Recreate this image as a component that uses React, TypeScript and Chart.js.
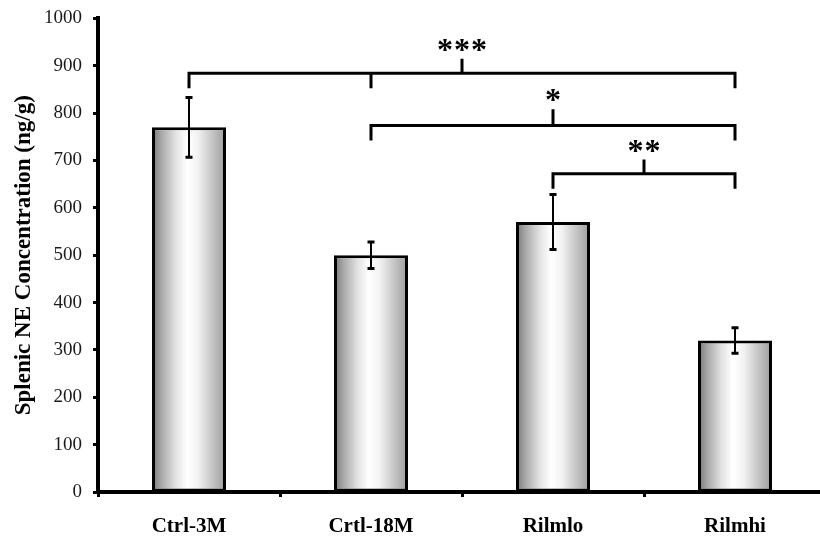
import React, { useEffect, useRef } from 'react';
import { Chart, registerables } from 'chart.js';

Chart.register(...registerables);

// Group names on the x axis
const categories = ['Ctrl-3M', 'Crtl-18M', 'Rilmlo', 'Rilmhi'];
// Mean splenic NE concentration (ng/g) per group
const meanNE = [770, 500, 570, 320];
// Error (±) per group
const errNE = [63, 28, 58, 27];
// Y axis range and step
const yMin = 0;
const yMax = 1000;
const yStep = 100;

// Significance brackets: which groups the legs stand on, bracket level (ng/g), top of centre tick, and stars
const bracketLegs = [[0, 1, 3], [1, 3], [2, 3]];
const bracketLevel = [884, 774, 672];
const bracketTickTop = [915, 808, 702];
const bracketStars = ['***', '*', '**'];

const SERIF = '"Liberation Serif", "Times New Roman", serif';

const overlayPlugin = {
  id: 'errorBarsAndBrackets',
  afterDatasetsDraw(chart: any) {
    const { ctx } = chart;
    const x = chart.scales.x;
    const y = chart.scales.y;
    ctx.save();
    ctx.strokeStyle = '#000';
    ctx.fillStyle = '#000';

    // error bars
    meanNE.forEach((m, i) => {
      const cx = x.getPixelForValue(i);
      const top = y.getPixelForValue(m + errNE[i]);
      const bot = y.getPixelForValue(m - errNE[i]);
      ctx.lineWidth = 2;
      ctx.beginPath();
      ctx.moveTo(cx, top);
      ctx.lineTo(cx, bot);
      ctx.stroke();
      ctx.lineWidth = 3;
      ctx.beginPath();
      ctx.moveTo(cx - 3.5, top);
      ctx.lineTo(cx + 3.5, top);
      ctx.moveTo(cx - 3.5, bot);
      ctx.lineTo(cx + 3.5, bot);
      ctx.stroke();
    });

    // significance brackets
    const legDrop = 15;
    ctx.lineWidth = 3;
    ctx.lineCap = 'butt';
    ctx.lineJoin = 'miter';
    bracketLegs.forEach((legs, b) => {
      const yy = y.getPixelForValue(bracketLevel[b]);
      const xs = legs.map((i) => x.getPixelForValue(i));
      const x0 = xs[0];
      const x1 = xs[xs.length - 1];
      ctx.beginPath();
      ctx.moveTo(x0, yy + legDrop);
      ctx.lineTo(x0, yy);
      ctx.lineTo(x1, yy);
      ctx.lineTo(x1, yy + legDrop);
      for (let k = 1; k < xs.length - 1; k++) {
        ctx.moveTo(xs[k], yy);
        ctx.lineTo(xs[k], yy + legDrop);
      }
      const mid = (x0 + x1) / 2;
      const tickTop = y.getPixelForValue(bracketTickTop[b]);
      ctx.moveTo(mid, yy);
      ctx.lineTo(mid, tickTop);
      ctx.stroke();

      // stars, each centred on its own slot
      ctx.font = `bold 32px ${SERIF}`;
      ctx.textAlign = 'center';
      ctx.textBaseline = 'alphabetic';
      const m = ctx.measureText('*');
      const glyphMid = (m.actualBoundingBoxAscent - m.actualBoundingBoxDescent) / 2;
      const cy = tickTop - 14;
      const n = bracketStars[b].length;
      const gap = 17;
      for (let s = 0; s < n; s++) {
        const sx = mid + (s - (n - 1) / 2) * gap;
        ctx.fillText('*', sx, cy + glyphMid);
      }
    });
    ctx.restore();
  },
};

function barGradient(context: any) {
  const chart = context.chart;
  const xs = chart.scales && chart.scales.x;
  if (!chart.chartArea || !xs || context.dataIndex === undefined) return '#d0d0d0';
  const cx = xs.getPixelForValue(context.dataIndex);
  const w = (chart.chartArea.width / categories.length) * 0.4066;
  const g = chart.ctx.createLinearGradient(cx - w / 2, 0, cx + w / 2, 0);
  g.addColorStop(0, '#767676');
  g.addColorStop(0.12, '#a6a6a6');
  g.addColorStop(0.32, '#e2e2e2');
  g.addColorStop(0.47, '#ffffff');
  g.addColorStop(0.62, '#f2f2f2');
  g.addColorStop(0.85, '#bdbdbd');
  g.addColorStop(1, '#9c9c9c');
  return g;
}

export default function App() {
  const canvasRef = useRef<HTMLCanvasElement | null>(null);

  useEffect(() => {
    if (!canvasRef.current) return;
    const chart = new Chart(canvasRef.current, {
      type: 'bar',
      data: {
        labels: categories,
        datasets: [
          {
            data: meanNE,
            backgroundColor: barGradient,
            borderColor: '#000',
            borderWidth: 3,
            borderSkipped: false,
            barPercentage: 0.4066,
            categoryPercentage: 1,
          },
        ],
      },
      options: {
        responsive: false,
        animation: false,
        events: [],
        layout: { padding: { top: 13, right: 14, bottom: 0, left: 0 } },
        plugins: {
          legend: { display: false },
          tooltip: { enabled: false },
        },
        scales: {
          x: {
            offset: true,
            afterFit: (s: any) => {
              s.height = 50;
            },
            border: { display: true, color: '#000', width: 4 },
            grid: {
              display: true,
              offset: true,
              drawOnChartArea: false,
              drawTicks: true,
              tickLength: 5,
              tickWidth: 3,
              tickColor: '#000',
              color: '#000',
            },
            ticks: {
              color: '#000',
              padding: 17,
              font: { family: SERIF, size: 21, weight: 'bold' },
              maxRotation: 0,
            },
          },
          y: {
            min: yMin,
            max: yMax,
            afterFit: (s: any) => {
              s.width = 98;
            },
            border: { display: true, color: '#000', width: 4 },
            grid: {
              display: true,
              drawOnChartArea: false,
              drawTicks: true,
              tickLength: 5,
              tickWidth: 3,
              tickColor: '#000',
              color: '#000',
            },
            ticks: {
              stepSize: yStep,
              color: '#1a1a1a',
              padding: 11,
              font: { family: SERIF, size: 19 },
              callback: (v: any) => String(v),
            },
            title: {
              display: true,
              text: 'Splenic NE Concentration (ng/g)',
              color: '#000',
              font: { family: SERIF, size: 23, weight: 'bold' },
              padding: { top: 10, bottom: 0 },
            },
          },
        },
      },
      plugins: [overlayPlugin],
    });
    return () => chart.destroy();
  }, []);

  return (
    <div
      style={{
        position: 'fixed',
        left: 0,
        top: 0,
        width: 820,
        height: 542,
        overflow: 'hidden',
        background: '#fff',
      }}
    >
      <canvas
        ref={canvasRef}
        width={840}
        height={546}
        style={{ display: 'block', width: 840, height: 546, marginTop: -4 }}
      />
    </div>
  );
}
